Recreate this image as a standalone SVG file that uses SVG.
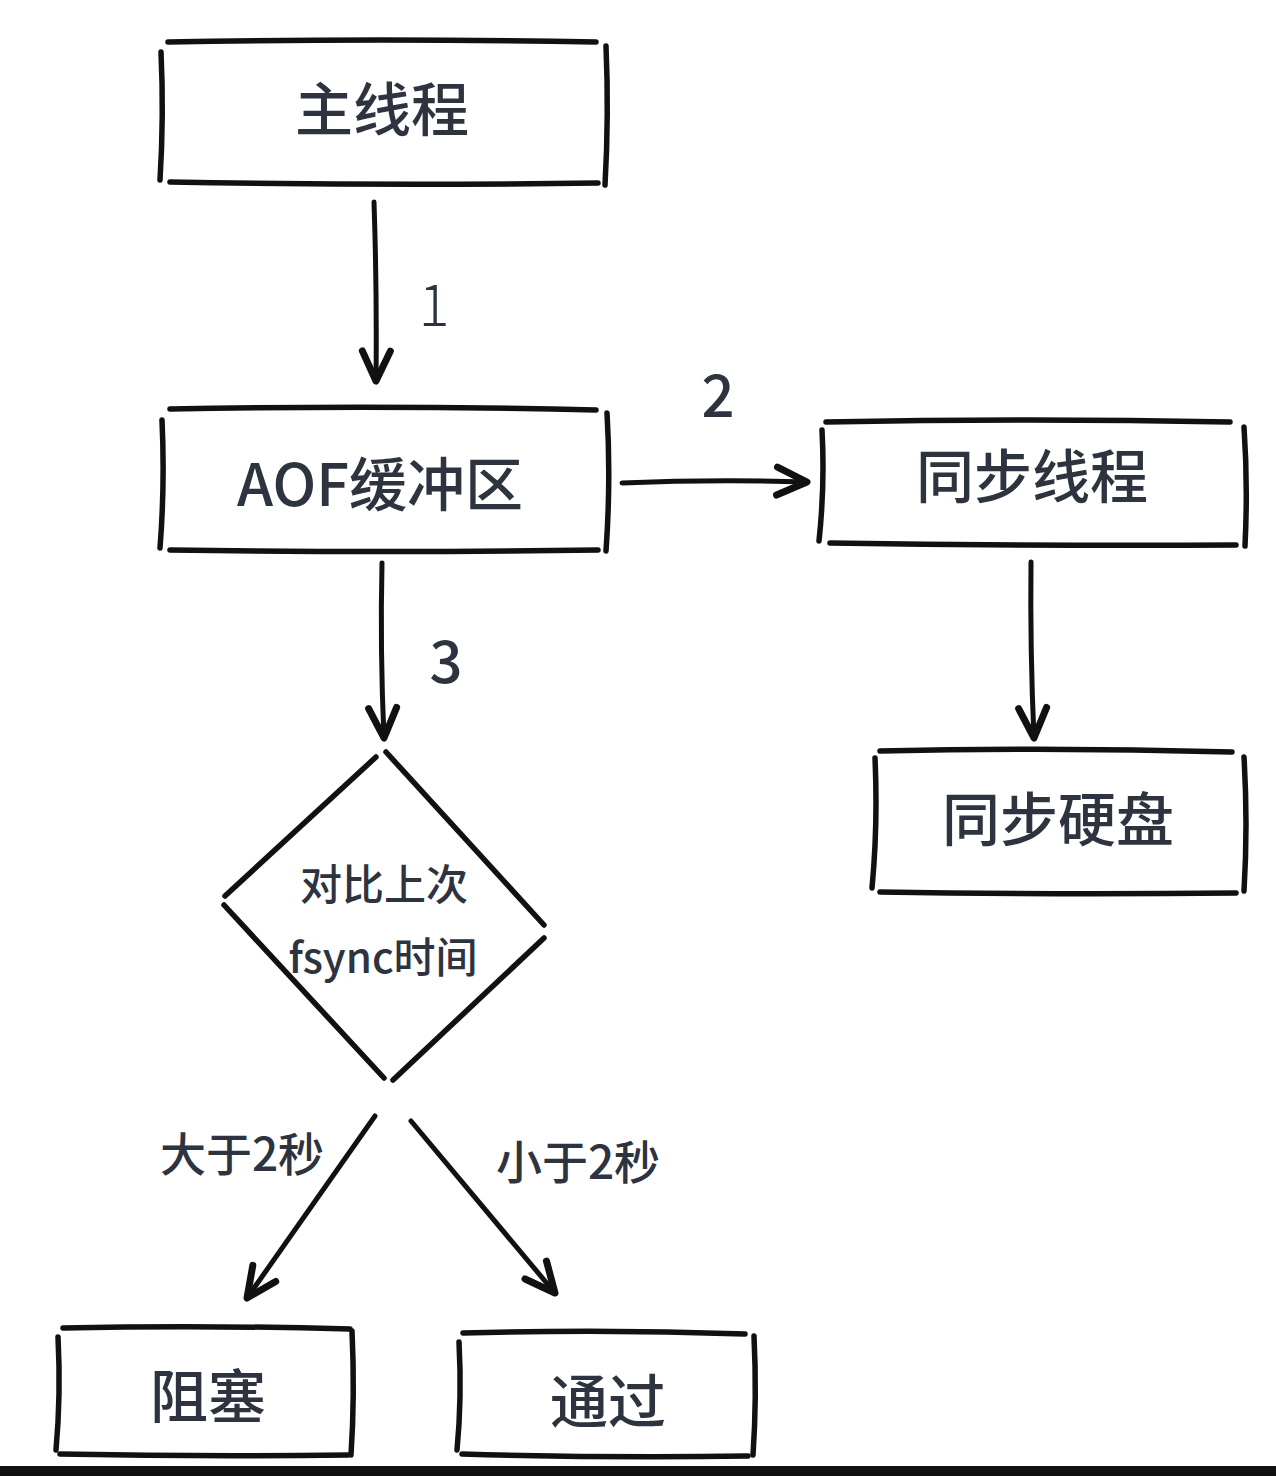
<svg xmlns="http://www.w3.org/2000/svg" width="1276" height="1476" viewBox="0 0 1276 1476">
<style>
.ln{stroke:#111;stroke-width:5.5;stroke-linecap:round;fill:none}
.ar{stroke:#111;stroke-width:5;stroke-linecap:round;fill:none;marker-end:url(#ah)}
.t{font-family:"Noto Sans CJK SC","Liberation Sans",sans-serif;fill:#2e3340;text-anchor:middle;dominant-baseline:central;font-weight:500}
.big{font-size:58px}
.mid{font-size:46px}
.sm{font-size:42px}
</style>
<defs>
<marker id="ah" viewBox="0 0 20 20" refX="18" refY="10" markerWidth="8" markerHeight="8" orient="auto" markerUnits="strokeWidth">
<path d="M3,3 L18,10 L3,17" fill="none" stroke="#111" stroke-width="3.5" stroke-linecap="round" stroke-linejoin="round"/>
</marker>
</defs>
<rect width="1276" height="1476" fill="#fff"/>
<g id="main">
<path class="ln" d="M168,42 Q380,38 596,42"/>
<path class="ln" d="M161,52 Q164,115 160,180"/>
<path class="ln" d="M606,46 Q609,115 605,185"/>
<path class="ln" d="M170,182 Q385,186 598,183"/>
<text class="t big" x="382" y="106">主线程</text>
</g>
<g id="aof">
<path class="ln" d="M170,409 Q385,405 596,410"/>
<path class="ln" d="M162,420 Q165,485 160,548"/>
<path class="ln" d="M607,413 Q611,480 606,551"/>
<path class="ln" d="M170,550 Q385,553 598,550"/>
<text class="t big" x="380" y="481">AOF缓冲区</text>
</g>
<g id="syncthread">
<path class="ln" d="M826,422 Q1030,418 1230,422"/>
<path class="ln" d="M822,430 Q825,485 819,541"/>
<path class="ln" d="M1244,427 Q1248,485 1245,546"/>
<path class="ln" d="M830,543 Q1030,546 1236,545"/>
<text class="t big" x="1032" y="473">同步线程</text>
</g>
<g id="syncdisk">
<path class="ln" d="M880,751 Q1055,747 1232,752"/>
<path class="ln" d="M875,758 Q878,825 872,888"/>
<path class="ln" d="M1244,757 Q1248,825 1244,891"/>
<path class="ln" d="M880,892 Q1060,895 1236,893"/>
<text class="t big" x="1058" y="816">同步硬盘</text>
</g>
<g id="decision">
<path class="ln" d="M376,757 L225,896"/>
<path class="ln" d="M386,752 L544,925"/>
<path class="ln" d="M224,905 L384,1078"/>
<path class="ln" d="M544,938 L393,1080"/>
<text class="t sm" x="384" y="881">对比上次</text>
<text class="t sm" x="383" y="954">fsync时间</text>
</g>
<g id="block">
<path class="ln" d="M63,1328 Q205,1325 350,1329"/>
<path class="ln" d="M58,1337 Q61,1395 56,1450"/>
<path class="ln" d="M352,1331 Q355,1395 351,1455"/>
<path class="ln" d="M60,1454 Q205,1457 348,1455"/>
<text class="t big" x="208" y="1393">阻塞</text>
</g>
<g id="pass">
<path class="ln" d="M463,1333 Q605,1329 745,1334"/>
<path class="ln" d="M459,1342 Q462,1398 457,1450"/>
<path class="ln" d="M754,1336 Q757,1398 753,1455"/>
<path class="ln" d="M462,1454 Q605,1458 748,1456"/>
<text class="t big" x="608" y="1398">通过</text>
</g>
<g id="connectors">
<path class="ar" d="M374,202 Q377,290 376,381"/>
<path class="ar" d="M622,483 Q715,479 807,482"/>
<path class="ar" d="M382,563 Q380,650 384,738"/>
<path class="ar" d="M1031,562 Q1030,650 1034,738"/>
<path class="ar" d="M375,1116 L247,1298"/>
<path class="ar" d="M411,1121 L555,1293"/>
</g>
<g id="labels">
<text class="t big" x="434" y="301" style="font-weight:300">1</text>
<text class="t big" x="718" y="392">2</text>
<text class="t big" x="446" y="658">3</text>
<text class="t mid" x="242" y="1151">大于2秒</text>
<text class="t mid" x="578" y="1159">小于2秒</text>
</g>
<rect x="0" y="1466" width="1276" height="10" fill="#111"/>
</svg>
